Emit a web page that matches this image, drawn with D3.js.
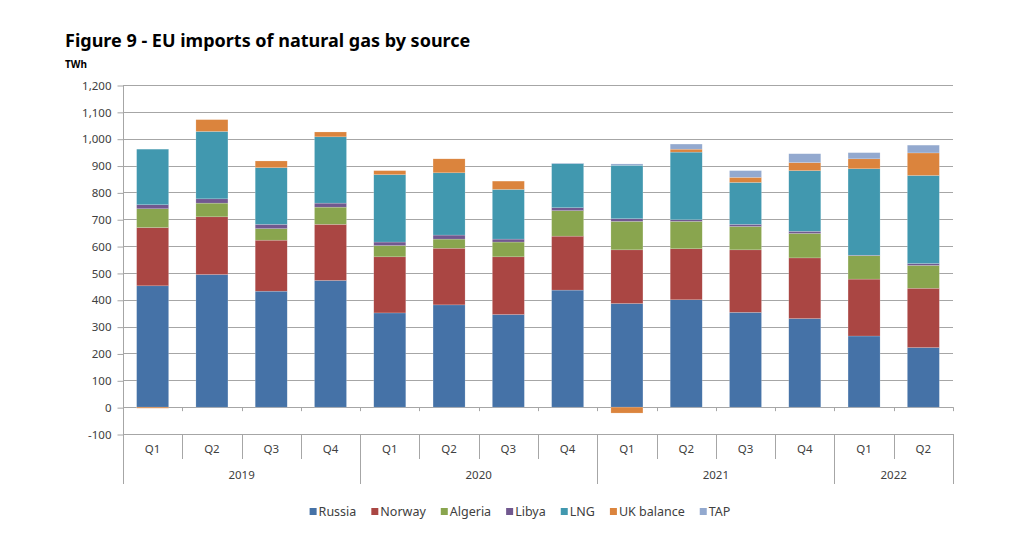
<html>
<head>
<meta charset="utf-8">
<title>EU imports of natural gas by source</title>
<script src="https://d3js.org/d3.v7.min.js"></script>
<style>
  body { margin: 0; background: #fff; font-family: "Noto Sans", "Open Sans", sans-serif; }
  svg text { fill: #404040; }
</style>
</head>
<body>
<script>
// quarters and years
var quarters = ["Q1","Q2","Q3","Q4","Q1","Q2","Q3","Q4","Q1","Q2","Q3","Q4","Q1","Q2"];
var years = [{name: "2019", n: 4}, {name: "2020", n: 4}, {name: "2021", n: 4}, {name: "2022", n: 2}];

// TWh by source, 2019 Q1 .. 2022 Q2
var russia   = [452, 494, 432, 472, 351, 381, 345, 436, 386, 400, 353, 330, 265, 222];
var norway   = [217, 215, 190, 209, 209, 211, 215, 201, 200, 190, 233, 226, 212, 221];
var algeria  = [ 70,  51,  43,  64,  42,  34,  55,  95, 106, 102,  87,  91,  87,  85];
var libya    = [ 15,  16,  16,  15,  13,  15,  11,  11,  10,   6,   8,   8,   2,   7];
var lng      = [207, 251, 211, 247, 251, 232, 185, 164, 199, 252, 156, 226, 322, 328];
var ukBal    = [ -4,  44,  25,  18,  15,  52,  31,   0, -22,  11,  19,  30,  37,  84];
var tap      = [  0,   0,   0,   0,   0,   0,   0,   2,   5,  19,  25,  33,  23,  29];

var seriesNames = ["Russia","Norway","Algeria","Libya","LNG","UK balance","TAP"];
var seriesValues = [russia, norway, algeria, libya, lng, ukBal, tap];
var colors = ["#4572A7","#AA4643","#89A54E","#71588F","#4198AF","#DB843D","#93A9CF"];

var yTicks = [-100,0,100,200,300,400,500,600,700,800,900,1000,1100,1200];

var width = 1024, height = 539;
var plotLeft = 123, plotRight = 953, plotTop = 85, plotBottom = 434;

var svg = d3.select("body").append("svg")
  .attr("width", width).attr("height", height);

// build rows for the stack
var rows = quarters.map(function(q, i) {
  var r = {idx: i};
  seriesNames.forEach(function(s, j) { r[s] = seriesValues[j][i]; });
  return r;
});

var x = d3.scaleBand()
  .domain(d3.range(quarters.length))
  .range([plotLeft, plotRight])
  .paddingInner(0.46)
  .paddingOuter(0.23);

var y = d3.scaleLinear().domain([-100, 1200]).range([plotBottom, plotTop]);

// title
svg.append("text")
  .attr("x", 65).attr("y", 47)
  .style("font-size", "18px").style("font-weight", "bold")
  .style("fill", "#000")
  .text("Figure 9 - EU imports of natural gas by source");

svg.append("text")
  .attr("x", 65).attr("y", 68)
  .style("font-size", "10px").style("font-weight", "bold")
  .style("fill", "#000")
  .text("TWh");

// gridlines
svg.append("g").selectAll("line")
  .data(yTicks)
  .enter().append("line")
  .attr("x1", plotLeft).attr("x2", plotRight)
  .attr("y1", function(d) { return Math.round(y(d)) + 0.5; })
  .attr("y2", function(d) { return Math.round(y(d)) + 0.5; })
  .attr("stroke", "#a6a6a6").attr("stroke-width", 1);

// y axis
var comma = d3.format(",");
var yAxis = svg.append("g")
  .attr("transform", "translate(" + (plotLeft + 0.5) + ",0.5)")
  .call(d3.axisLeft(y).tickValues(yTicks).tickSize(6).tickPadding(6)
    .tickFormat(function(d) { return comma(d).replace("\u2212", "-"); }));
yAxis.select(".domain").remove();
yAxis.selectAll(".tick line").attr("stroke", "#a6a6a6");
yAxis.selectAll("text").style("font-size", "11.5px").style("font-family", "'Noto Sans', sans-serif").attr("fill", "#404040");

// stacked bars
var stack = d3.stack().keys(seriesNames).offset(d3.stackOffsetDiverging);
var stacked = stack(rows);

svg.append("g").selectAll("g")
  .data(stacked)
  .enter().append("g")
  .attr("fill", function(d, i) { return colors[i]; })
  .selectAll("rect")
  .data(function(d) { return d; })
  .enter().append("rect")
  .attr("x", function(d) { return x(d.data.idx); })
  .attr("width", x.bandwidth())
  .attr("y", function(d) { return y(Math.max(d[0], d[1])); })
  .attr("height", function(d) { return Math.abs(y(d[0]) - y(d[1])); })
  .attr("stroke", "#ffffff").attr("stroke-opacity", 0.35).attr("stroke-width", 0.5);

// small ticks on the zero line between categories
var step = x.step();
var catEdges = d3.range(quarters.length + 1).map(function(i) { return plotLeft + i * step; });
svg.append("g").selectAll("line")
  .data(catEdges)
  .enter().append("line")
  .attr("x1", function(d) { return Math.round(d) + 0.5; })
  .attr("x2", function(d) { return Math.round(d) + 0.5; })
  .attr("y1", y(0)).attr("y2", y(0) + 4)
  .attr("stroke", "#a6a6a6");

// vertical axis line
svg.append("line")
  .attr("x1", plotLeft + 0.5).attr("x2", plotLeft + 0.5)
  .attr("y1", plotTop).attr("y2", 484)
  .attr("stroke", "#a6a6a6");

// quarter separators and labels
svg.append("g").selectAll("line")
  .data(catEdges)
  .enter().append("line")
  .attr("x1", function(d) { return Math.round(d) + 0.5; })
  .attr("x2", function(d) { return Math.round(d) + 0.5; })
  .attr("y1", plotBottom).attr("y2", 459)
  .attr("stroke", "#a6a6a6");

svg.append("g").selectAll("text")
  .data(quarters)
  .enter().append("text")
  .attr("x", function(d, i) { return x(i) + x.bandwidth() / 2; })
  .attr("y", 453)
  .attr("text-anchor", "middle")
  .style("font-size", "11.5px")
  .text(function(d) { return d; });

// year separators and labels
var acc = 0;
var yearPos = years.map(function(yr) {
  var p = {name: yr.name, start: acc, end: acc + yr.n};
  acc += yr.n;
  return p;
});

svg.append("g").selectAll("line")
  .data([0].concat(yearPos.map(function(p) { return p.end; })))
  .enter().append("line")
  .attr("x1", function(d) { return Math.round(plotLeft + d * step) + 0.5; })
  .attr("x2", function(d) { return Math.round(plotLeft + d * step) + 0.5; })
  .attr("y1", plotBottom).attr("y2", 484)
  .attr("stroke", "#a6a6a6");

svg.append("g").selectAll("text")
  .data(yearPos)
  .enter().append("text")
  .attr("x", function(d) { return plotLeft + (d.start + d.end) / 2 * step; })
  .attr("y", 479)
  .attr("text-anchor", "middle")
  .style("font-size", "11.5px")
  .text(function(d) { return d.name; });

// legend
var legend = svg.append("g");
var items = legend.selectAll("g")
  .data(seriesNames)
  .enter().append("g");
items.append("rect")
  .attr("width", 7).attr("height", 7)
  .attr("y", -8)
  .attr("fill", function(d, i) { return colors[i]; });
items.append("text")
  .attr("x", 9)
  .style("font-size", "12.5px")
  .text(function(d) { return d; });

var lx = 0;
items.each(function() {
  var g = d3.select(this);
  g.attr("transform", "translate(" + lx + ",0)");
  lx += 9 + g.select("text").node().getComputedTextLength() + 15;
});
lx -= 15;
legend.attr("transform", "translate(" + (520 - lx / 2) + ",516)");
</script>
</body>
</html>
